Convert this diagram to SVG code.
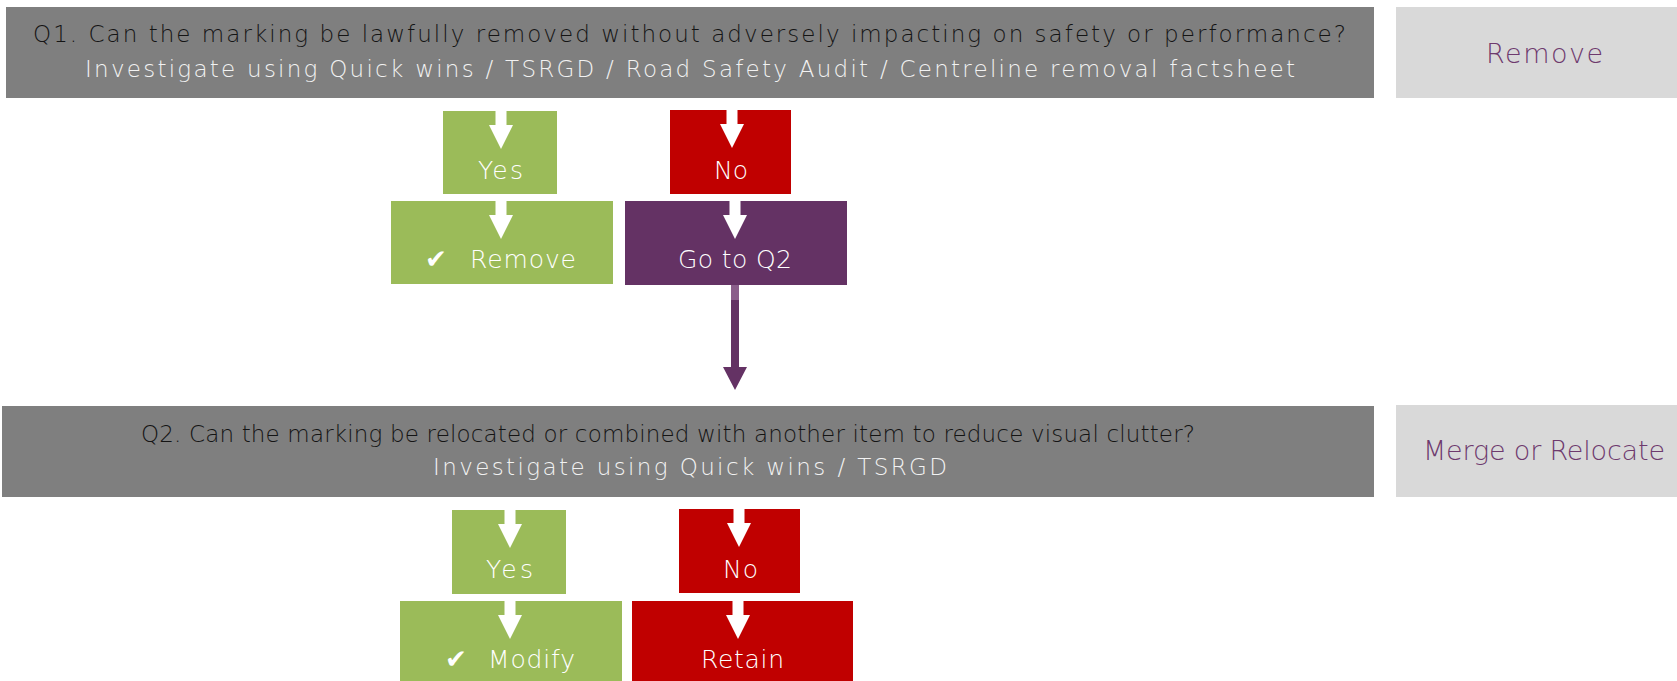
<svg xmlns="http://www.w3.org/2000/svg" width="1677" height="681" viewBox="0 0 1677 681">
<defs>
<style>
.q{fill:#7F7F7F}
.side{fill:#D9D9D9}
.green{fill:#9BBB59}
.red{fill:#C00000}
.purple{fill:#643264}
.t{font-family:"DejaVu Sans","Open Sans",sans-serif;font-weight:200}
.qt1{font-size:23px;fill:#141414}
.qt2{font-size:23px;fill:#F2F2F2}
.lbl{font-size:25px;fill:#FFFFFF}
.sl{font-size:27px;fill:#6E3A6E}
.chk{font-family:"DejaVu Sans",sans-serif;font-size:26px;fill:#FFFFFF}
.wa{fill:#FFFFFF}
</style>
<path id="wArrow" d="M-5.5 0 H5.5 V14 H12 L0 38 L-12 14 H-5.5 Z"/>
</defs>
<g id="q1">
<rect class="q" x="6" y="7" width="1368" height="91"/>
<text class="t qt1" x="33" y="42" textLength="1313" lengthAdjust="spacing">Q1. Can the marking be lawfully removed without adversely impacting on safety or performance?</text>
<text class="t qt2" x="85" y="77" textLength="1210" lengthAdjust="spacing">Investigate using Quick wins / TSRGD / Road Safety Audit / Centreline removal factsheet</text>
</g>
<g id="q1-outcome">
<rect class="side" x="1396" y="7" width="281" height="91"/>
<text class="t sl" x="1486" y="63" textLength="117" lengthAdjust="spacing">Remove</text>
</g>
<g id="q1-yes">
<rect class="green" x="443" y="111" width="114" height="83"/>
<use href="#wArrow" class="wa" x="501" y="111"/>
<text class="t lbl" x="478" y="179" textLength="45" lengthAdjust="spacing">Yes</text>
</g>
<g id="q1-no">
<rect class="red" x="670" y="110" width="121" height="84"/>
<use href="#wArrow" class="wa" x="732" y="110"/>
<text class="t lbl" x="714" y="179" textLength="34" lengthAdjust="spacing">No</text>
</g>
<g id="q1-remove">
<rect class="green" x="391" y="201" width="222" height="83"/>
<use href="#wArrow" class="wa" x="501" y="201"/>
<text class="chk" x="425" y="268">✔</text>
<text class="t lbl" x="470" y="268" textLength="106" lengthAdjust="spacing">Remove</text>
</g>
<g id="q1-goto">
<rect class="purple" x="625" y="201" width="222" height="84"/>
<use href="#wArrow" class="wa" x="735" y="201"/>
<text class="t lbl" x="678" y="268" textLength="114" lengthAdjust="spacing">Go to Q2</text>
</g>
<g id="connectors">
<rect x="731" y="285" width="8" height="15" fill="#8A5E8A"/>
<path d="M731 300 H739 V367 H747 L735 390 L723 367 H731 Z" fill="#643264"/>
</g>
<g id="q2">
<rect class="q" x="2" y="406" width="1372" height="91"/>
<text class="t qt1" x="141" y="442" textLength="1054" lengthAdjust="spacing">Q2. Can the marking be relocated or combined with another item to reduce visual clutter?</text>
<text class="t qt2" x="433" y="475" textLength="514" lengthAdjust="spacing">Investigate using Quick wins / TSRGD</text>
</g>
<g id="q2-outcome">
<rect class="side" x="1396" y="405" width="281" height="92"/>
<text class="t sl" x="1423" y="460" textLength="242" lengthAdjust="spacing">Merge or Relocate</text>
</g>
<g id="q2-yes">
<rect class="green" x="452" y="510" width="114" height="84"/>
<use href="#wArrow" class="wa" x="510" y="510"/>
<text class="t lbl" x="486" y="578" textLength="47" lengthAdjust="spacing">Yes</text>
</g>
<g id="q2-no">
<rect class="red" x="679" y="509" width="121" height="84"/>
<use href="#wArrow" class="wa" x="739" y="509"/>
<text class="t lbl" x="723" y="578" textLength="35" lengthAdjust="spacing">No</text>
</g>
<g id="q2-modify">
<rect class="green" x="400" y="601" width="222" height="80"/>
<use href="#wArrow" class="wa" x="510" y="601"/>
<text class="chk" x="445" y="668">✔</text>
<text class="t lbl" x="488" y="668" textLength="87" lengthAdjust="spacing">Modify</text>
</g>
<g id="q2-retain">
<rect class="red" x="632" y="601" width="221" height="80"/>
<use href="#wArrow" class="wa" x="738" y="601"/>
<text class="t lbl" x="701" y="668" textLength="83" lengthAdjust="spacing">Retain</text>
</g>
</svg>
